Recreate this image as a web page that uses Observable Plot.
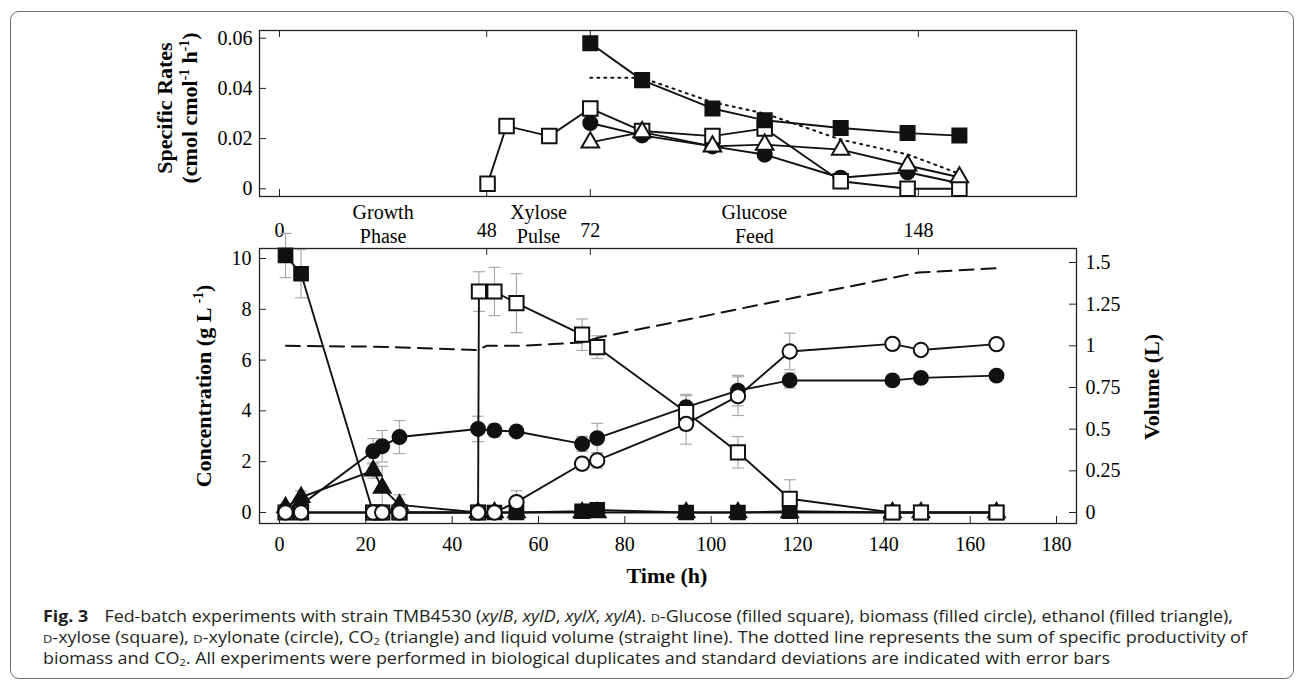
<!DOCTYPE html>
<html><head><meta charset="utf-8">
<script src="https://cdn.jsdelivr.net/npm/d3@7"></script>
<script src="https://cdn.jsdelivr.net/npm/@observablehq/plot@0.6"></script>
<style>
html,body{margin:0;padding:0;background:#fff;}
body{width:1296px;height:682px;position:relative;overflow:hidden;font-family:"Liberation Serif",serif;}
#box{position:absolute;left:10px;top:11px;width:1284px;height:668px;border:1.2px solid #6d6e70;border-radius:9px;box-sizing:border-box;}
.abs{position:absolute;}
.rot{position:absolute;transform:translate(-50%,-50%) rotate(-90deg);white-space:nowrap;font-weight:bold;font-size:22px;color:#000;line-height:1;}
.lab{position:absolute;transform:translate(-50%,-50%);white-space:nowrap;font-weight:bold;font-size:22px;color:#000;line-height:1;}
.rot sup,.lab sup{font-size:0.62em;vertical-align:0.6em;line-height:0;}
.cap{position:absolute;left:43px;height:20px;white-space:nowrap;font-family:"Open Sans",sans-serif;font-size:15.4px;line-height:20px;color:#231f20;transform-origin:0 50%;}
.cap b{color:#231f20;font-size:15.4px;margin-right:10px;}
.sc{font-variant:small-caps;}
.cap sub{font-size:0.62em;vertical-align:-0.2em;line-height:0;}
</style></head><body>
<div id="box"></div>
<div id="top" class="abs" style="left:0;top:0"></div>
<div id="bottom" class="abs" style="left:0;top:196px"></div>
<div class="rot" style="left:165px;top:108px">Specific Rates</div>
<div class="rot" style="left:190px;top:108px">(cmol cmol<sup>-1</sup> h<sup>-1</sup>)</div>
<div class="rot" style="left:204px;top:386px">Concentration (g L <sup>-1</sup>)</div>
<div class="rot" style="left:1152px;top:387px">Volume (L)</div>
<div class="lab" style="left:667px;top:576px">Time (h)</div>
<div class="cap" style="top:607px"><b>Fig. 3</b> Fed-batch experiments with strain TMB4530 (<i>xylB</i>, <i>xylD</i>, <i>xylX</i>, <i>xylA</i>). <span class="sc">d</span>-Glucose (filled square), biomass (filled circle), ethanol (filled triangle),</div>
<div class="cap" style="top:628px"><span class="sc">d</span>-xylose (square), <span class="sc">d</span>-xylonate (circle), CO<sub>2</sub> (triangle) and liquid volume (straight line). The dotted line represents the sum of specific productivity of</div>
<div class="cap" style="top:649px">biomass and CO<sub>2</sub>. All experiments were performed in biological duplicates and standard deviations are indicated with error bars</div>
<script>
// ---------- tick / label arrays ----------
const phaseTicks = [0, 48, 72, 148];
const phaseCenters = [24, 60, 110];
const phaseLabels = ["Growth\nPhase", "Xylose\nPulse", "Glucose\nFeed"];
const timeTicks = [0, 20, 40, 60, 80, 100, 120, 140, 160, 180];
const concTicks = [0, 2, 4, 6, 8, 10];
const volTicks = [0, 0.25, 0.5, 0.75, 1, 1.25, 1.5];
const volTickLabels = ["0", "0.25", "0.5", "0.75", "1", "1.25", "1.5"];
const rateTicks = [0, 0.02, 0.04, 0.06];
const rateTickLabels = ["0", "0.02", "0.04", "0.06"];

// ---------- specific rates (top panel) ----------
const rateXyloseT = [48.2, 52.6, 62.5, 72, 84, 100.3, 112.4, 130, 145.5, 157.5];
const rateXylose  = [0.002, 0.025, 0.021, 0.032, 0.023, 0.021, 0.024, 0.003, 0.0, 0.0];
const rateT       = [72, 84, 100.3, 112.4, 130, 145.5, 157.5];
const rateGlucose = [0.058, 0.0433, 0.032, 0.0273, 0.0242, 0.0222, 0.0212];
const rateBiomass = [0.0262, 0.0213, 0.0169, 0.0136, 0.0044, 0.0066, 0.0022];
const rateCO2     = [0.0185, 0.0226, 0.0169, 0.0176, 0.0156, 0.0093, 0.0046];
const rateSum     = [0.0442, 0.0442, 0.0345, 0.030, 0.0196, 0.0137, 0.006];

// ---------- concentrations (bottom panel) ----------
const sampleT   = [1.4, 5.0, 21.7, 23.8, 27.8, 46.0, 49.8, 54.9, 70.1, 73.6, 94.2, 106.2, 118.2, 142.0, 148.6, 166.1];
const glucose   = [10.12, 9.4, 0, 0, 0, 0, 0, 0, 0.05, 0.1, 0, 0, 0.05, 0, 0, 0];
const glucoseErr= [0.87, 0.95, 0, 0, 0, 0, 0, 0, 0, 0, 0, 0, 0, 0, 0, 0];
const biomass   = [0.1, 0.3, 2.41, 2.61, 2.97, 3.29, 3.23, 3.19, 2.7, 2.93, 4.15, 4.8, 5.2, 5.2, 5.3, 5.39];
const biomassErr= [0, 0, 0.5, 0.62, 0.65, 0.5, 0.25, 0.15, 0.3, 0.58, 0.45, 0.6, 0.3, 0.15, 0, 0];
const ethanol   = [0.2, 0.6, 1.65, 0.97, 0.3, 0, 0, 0, 0, 0, 0, 0, 0, 0, 0, 0];
const ethanolErr= [0, 0.25, 0.3, 0.85, 0.4, 0, 0, 0, 0, 0, 0, 0, 0, 0, 0, 0];
const xylonate  = [0, 0, 0, 0, 0, 0, 0, 0.41, 1.92, 2.05, 3.49, 4.58, 6.34, 6.64, 6.4, 6.63];
const xylonateErr=[0, 0, 0, 0, 0, 0, 0, 0.45, 0.25, 0.3, 0.8, 0.76, 0.72, 0, 0, 0];
const xyloseT   = [1.4, 5.0, 21.7, 23.8, 27.8, 46.0, 46.2, 49.8, 54.9, 70.1, 73.6, 94.2, 106.2, 118.2, 142.0, 148.6, 166.1];
const xylose    = [0, 0, 0, 0, 0, 0, 8.7, 8.7, 8.24, 7.0, 6.51, 3.95, 2.37, 0.54, 0, 0, 0];
const xyloseErr = [0, 0, 0, 0, 0, 0, 0.78, 0.95, 1.16, 0.62, 0.45, 0.7, 0.62, 0.75, 0, 0, 0];
const volT      = [1.5, 22, 46, 48, 56, 70, 74, 148, 166];
const volume    = [1.0, 0.995, 0.975, 1.0, 1.0, 1.02, 1.05, 1.44, 1.465];

// ---------- layout ----------
const xDomain = [-4.63, 184.63];
const K = 6.562; // volume (L) -> concentration axis units (right axis)
const W = 1296, mL = 259, mR = 220, fW = W - mL - mR;
const font = {fontFamily: "Liberation Serif", fontSize: "20px", color: "#000", background: "transparent", overflow: "visible"};
const ink = "#111";
const sw = 1.9;

const cap = {draw(ctx) { ctx.moveTo(-6, 0); ctx.lineTo(6, 0); }};

// top panel
const tH = 215, tmT = 30, tmB = 19, tfH = tH - tmT - tmB;
const xyl = rateXyloseT.map((t, i) => ({t, v: rateXylose[i]}));
const rates = rateT.map((t, i) => ({t, glc: rateGlucose[i], bio: rateBiomass[i], co2: rateCO2[i], sum: rateSum[i]}));

const topPlot = Plot.plot({
  width: W, height: tH, marginTop: tmT, marginBottom: tmB, marginLeft: mL, marginRight: mR,
  x: {domain: xDomain, axis: null},
  y: {domain: [-0.00307, 0.06307]},
  style: font,
  marks: [
    Plot.frame({stroke: "#222", strokeWidth: 1.3}),
    Plot.ruleY(rateTicks, {y: d => d, insetRight: fW - 7, stroke: "#222"}),
    Plot.ruleX(phaseTicks, {x: d => d, insetBottom: tfH - 7, stroke: "#222"}),
    Plot.ruleX(phaseTicks, {x: d => d, insetTop: tfH - 7, stroke: "#222"}),
    Plot.axisY(rateTicks, {tickSize: 0, tickPadding: 7, tickFormat: (d, i) => rateTickLabels[i], label: null, fontSize: 20}),
    Plot.line(rates, {x: "t", y: "sum", stroke: ink, strokeWidth: 2, strokeDasharray: "2,5"}),
    Plot.line(xyl, {x: "t", y: "v", stroke: ink, strokeWidth: sw}),
    Plot.line(rates, {x: "t", y: "glc", stroke: ink, strokeWidth: sw}),
    Plot.line(rates, {x: "t", y: "bio", stroke: ink, strokeWidth: sw}),
    Plot.line(rates, {x: "t", y: "co2", stroke: ink, strokeWidth: sw}),
    Plot.dot(rates, {x: "t", y: "bio", symbol: "circle", r: 7.3, fill: ink, stroke: ink}),
    Plot.dot(xyl, {x: "t", y: "v", symbol: "square", r: 8.2, fill: "#fff", stroke: ink, strokeWidth: 2}),
    Plot.dot(rates, {x: "t", y: "co2", symbol: "triangle", r: 6.5, fill: "#fff", stroke: ink, strokeWidth: 2}),
    Plot.dot(rates, {x: "t", y: "glc", symbol: "square", r: 8.2, fill: ink, stroke: ink})
  ]
});
document.getElementById("top").append(topPlot);

// bottom panel
const bH = 404, bmT = 52, bmB = 77, bfH = bH - bmT - bmB;
const samples = sampleT.map((t, i) => ({t, glc: glucose[i], bio: biomass[i], eth: ethanol[i], xyn: xylonate[i]}));
const xylSeries = xyloseT.map((t, i) => ({t, c: xylose[i]}));
const volData = volT.map((t, i) => ({t, v: volume[i]}));
const errs = [];
sampleT.forEach((t, i) => {
  if (glucoseErr[i]) errs.push({t, c: glucose[i], e: glucoseErr[i]});
  if (biomassErr[i]) errs.push({t, c: biomass[i], e: biomassErr[i]});
  if (ethanolErr[i]) errs.push({t, c: ethanol[i], e: ethanolErr[i]});
  if (xylonateErr[i]) errs.push({t, c: xylonate[i], e: xylonateErr[i]});
});
xyloseT.forEach((t, i) => { if (xyloseErr[i]) errs.push({t, c: xylose[i], e: xyloseErr[i]}); });
const phases = phaseCenters.map((t, i) => ({t, label: phaseLabels[i]}));
const grey = "#a7a9ac";

const bottomPlot = Plot.plot({
  width: W, height: bH, marginTop: bmT, marginBottom: bmB, marginLeft: mL, marginRight: mR,
  x: {domain: xDomain},
  y: {domain: [-0.433, 10.394]},
  style: font,
  marks: [
    Plot.frame({stroke: "#222", strokeWidth: 1.3}),
    Plot.ruleX(timeTicks, {x: d => d, insetTop: bfH - 7, stroke: "#222"}),
    Plot.ruleX(phaseTicks, {x: d => d, insetBottom: bfH - 7, stroke: "#222"}),
    Plot.ruleY(concTicks, {y: d => d, insetRight: fW - 7, stroke: "#222"}),
    Plot.ruleY(volTicks.map(v => v * K), {y: d => d, insetLeft: fW - 7, stroke: "#222"}),
    Plot.axisX(timeTicks, {anchor: "bottom", tickSize: 0, tickPadding: 13, label: null, fontSize: 20}),
    Plot.axisX(phaseTicks, {anchor: "top", tickSize: 0, tickPadding: 12, label: null, fontSize: 20}),
    Plot.text(phases, {x: "t", text: "label", frameAnchor: "top", lineAnchor: "bottom", dy: -6, lineHeight: 1.17, fontSize: 20}),
    Plot.axisY(concTicks, {anchor: "left", tickSize: 0, tickPadding: 8, label: null, fontSize: 20}),
    Plot.axisY(volTicks.map(v => v * K), {anchor: "right", tickSize: 0, tickPadding: 9, tickFormat: (d, i) => volTickLabels[i], label: null, fontSize: 20}),
    Plot.ruleX(errs, {x: "t", y1: d => d.c - d.e, y2: d => d.c + d.e, stroke: grey, strokeWidth: 1.2}),
    Plot.dot(errs, {x: "t", y: d => d.c + d.e, symbol: cap, stroke: grey, strokeWidth: 1.2}),
    Plot.dot(errs, {x: "t", y: d => d.c - d.e, symbol: cap, stroke: grey, strokeWidth: 1.2}),
    Plot.line(volData, {x: "t", y: d => d.v * K, stroke: ink, strokeWidth: 2, strokeDasharray: "14,8"}),
    Plot.line(samples, {x: "t", y: "eth", stroke: ink, strokeWidth: sw}),
    Plot.line(samples, {x: "t", y: "glc", stroke: ink, strokeWidth: sw}),
    Plot.line(samples, {x: "t", y: "bio", stroke: ink, strokeWidth: sw}),
    Plot.line(xylSeries, {x: "t", y: "c", stroke: ink, strokeWidth: sw}),
    Plot.line(samples, {x: "t", y: "xyn", stroke: ink, strokeWidth: sw}),
    Plot.dot(samples, {x: "t", y: "eth", symbol: "triangle", r: 6.5, fill: ink, stroke: ink}),
    Plot.dot(samples, {x: "t", y: "glc", symbol: "square", r: 8, fill: ink, stroke: ink}),
    Plot.dot(samples, {x: "t", y: "bio", symbol: "circle", r: 7.2, fill: ink, stroke: ink}),
    Plot.dot(xylSeries, {x: "t", y: "c", symbol: "square", r: 8, fill: "#fff", stroke: ink, strokeWidth: 2}),
    Plot.dot(samples, {x: "t", y: "xyn", symbol: "circle", r: 7.2, fill: "#fff", stroke: ink, strokeWidth: 2})
  ]
});
document.getElementById("bottom").append(bottomPlot);

// fit caption lines to their measured widths in the reference
const capTargets = [1233 - 43, 1247 - 43, 1110 - 43];
function fitCaption() {
  document.querySelectorAll(".cap").forEach((el, i) => {
    el.style.transform = "none";
    const w = el.getBoundingClientRect().width;
    if (w > 0) el.style.transform = `scaleX(${capTargets[i] / w})`;
  });
}
fitCaption();
if (document.fonts && document.fonts.ready) document.fonts.ready.then(fitCaption);
</script>
</body></html>
